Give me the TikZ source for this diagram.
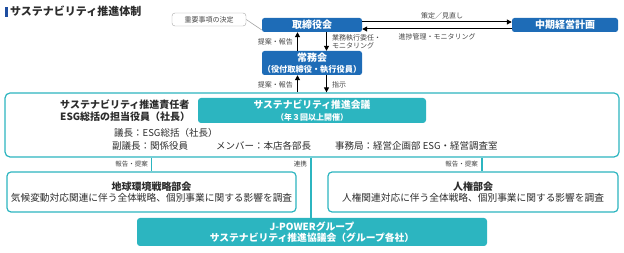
\documentclass[tikz,border=0pt]{standalone}
\usepackage{fontspec}
\setmainfont{Noto Sans CJK JP}
\usetikzlibrary{arrows.meta}
\definecolor{cblue}{RGB}{30,108,183}
\definecolor{cteal}{RGB}{44,181,192}
\definecolor{ctitle}{RGB}{31,78,160}
\definecolor{ctext}{RGB}{45,45,45}
\definecolor{clbl}{RGB}{70,70,70}
\begin{document}
\begin{tikzpicture}[x=1pt,y=-1pt,
  bluebox/.style={fill=cblue, rounded corners=2.5pt, text=white, inner sep=0pt, align=center,
    font=\fontsize{10}{11}\selectfont\bfseries},
  tealbox/.style={fill=cteal, rounded corners=3pt, text=white, inner sep=0pt, align=center,
    font=\fontsize{9.8}{11.5}\selectfont\bfseries},
  graybox/.style={draw=gray!70, fill=white, rounded corners=3pt, inner sep=0pt,
    font=\fontsize{7}{8}\selectfont, text=clbl},
  bigbox/.style={draw=cteal, line width=1.2pt, rounded corners=5pt, fill=white, inner sep=0pt},
  subbox/.style={draw=cteal, line width=1.2pt, rounded corners=4pt, fill=white, inner sep=0pt,
    align=center, text=ctext, font=\fontsize{9.7}{11.6}\selectfont},
  lbl/.style={font=\fontsize{7}{8.6}\selectfont, text=clbl, inner sep=0pt},
  slbl/.style={font=\fontsize{6.5}{8}\selectfont, text=clbl, inner sep=0pt},
  arr/.style={line width=1pt, -{Triangle[length=5pt,width=5pt]}},
  conn/.style={draw=cteal, line width=1.1pt},
  body/.style={font=\fontsize{9.5}{11}\selectfont, text=ctext, inner sep=0pt}
]
\useasboundingbox (0,0) rectangle (624,253);

% title
\fill[ctitle] (5,7) rectangle (7.5,17);
\node[anchor=west, inner sep=0pt, font=\fontsize{11}{12}\selectfont\bfseries, text=ctext] (title) at (10,11.5) {サステナビリティ推進体制};

% top
\node[graybox, minimum width=74pt, minimum height=13pt] (juyo) at (209,19.5) {重要事項の決定};
\node[bluebox, minimum width=100pt, minimum height=14pt] (tori) at (312,25) {取締役会};
\node[bluebox, minimum width=106pt, minimum height=14pt] (chuki) at (565,25) {中期経営計画};
\draw[gray!70, line width=0.6pt] (juyo.east) -- ([yshift=-5pt]tori.west);

\draw[arr] ([yshift=3pt]tori.east) -- ([yshift=3pt]chuki.west);
\draw[arr] ([yshift=-4pt]chuki.west) -- ([yshift=-4pt]tori.east);
\node[lbl] (sakutei) at (442,16) {策定／見直し};
\node[lbl] (shinchoku) at (437,36.5) {進捗管理・モニタリング};

% jomukai
\node[bluebox, minimum width=100pt, minimum height=24pt] (jomu) at (312,63)
  {常務会\\{\fontsize{8.2}{10}\selectfont （役付取締役・執行役員）}};

\draw[arr] ([xshift=-14.5pt]jomu.north) -- ([xshift=-14.5pt]tori.south);
\draw[arr] ([xshift=14.5pt]tori.south) -- ([xshift=14.5pt]jomu.north);
\node[lbl, anchor=east] (teian1) at (293,41.5) {提案・報告};
\node[lbl, anchor=west, align=left] (gyomu) at (332,42) {業務執行委任・\\モニタリング};

% big box
\node[bigbox, minimum width=614pt, minimum height=64pt] (big) at (312,125) {};
\draw[arr] ([xshift=-14.5pt]big.north) -- ([xshift=-14.5pt]jomu.south);
\draw[arr] ([xshift=14.5pt]jomu.south) -- ([xshift=14.5pt]big.north);
\node[lbl, anchor=east] (teian2) at (293,85) {提案・報告};
\node[lbl, anchor=west] (shiji) at (332,85) {指示};

\node[tealbox, minimum width=228pt, minimum height=25pt] (kaigi) at (312,110.5)
  {サステナビリティ推進会議\\{\fontsize{8}{10}\selectfont （年３回以上開催）}};
\node[anchor=west, align=left, inner sep=0pt, text=ctext, font=\fontsize{10}{12}\selectfont\bfseries] (sekinin) at (60,111)
  {サステナビリティ推進責任者\\ESG総括の担当役員（社長）};
\node[body, anchor=west] (gicho) at (114,133) {議長：ESG総括（社長）};
\node[body, anchor=west] (fuku) at (112,146) {副議長：関係役員};
\node[body, anchor=west] (member) at (216,146) {メンバー：本店各部長};
\node[body, anchor=west] (jimu) at (335,146) {事務局：経営企画部 ESG・経営調査室};

% sub boxes
\node[subbox, minimum width=289pt, minimum height=40pt] (chikyu) at (151.5,192)
  {{\fontsize{10}{12}\selectfont\bfseries 地球環境戦略部会}\\気候変動対応関連に伴う全体戦略、個別事業に関する影響を調査};
\node[subbox, minimum width=290pt, minimum height=40pt] (jinken) at (473,192)
  {{\fontsize{10}{12}\selectfont\bfseries 人権部会}\\人権関連対応に伴う全体戦略、個別事業に関する影響を調査};
\node[tealbox, minimum width=350pt, minimum height=28pt] (jpower) at (312,232)
  {J-POWERグループ\\サステナビリティ推進協議会（グループ各社）};

% connectors
\draw[conn] (chikyu.north |- big.south) -- (chikyu.north);
\draw[conn] ([xshift=9pt]jinken.north |- big.south) -- ([xshift=9pt]jinken.north);
\draw[conn] ([xshift=-1pt]big.south) -- ([xshift=-1pt]jpower.north);
\node[slbl, anchor=east] (hk1) at (148,164) {報告・提案};
\node[slbl, anchor=east] (renkei) at (307,164) {連携};
\node[slbl, anchor=east] (hk2) at (478,164) {報告・提案};
\end{tikzpicture}
\end{document}
